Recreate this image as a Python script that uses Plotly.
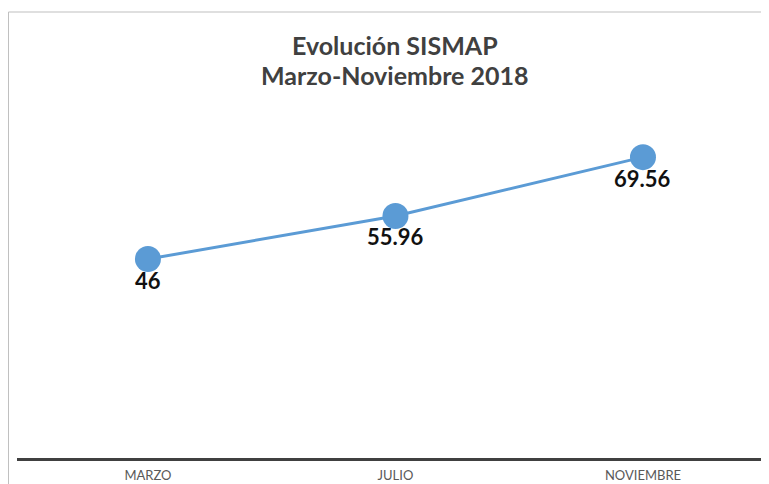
import plotly.graph_objects as go

categories = ["MARZO", "JULIO", "NOVIEMBRE"]
values = [46, 55.96, 69.56]
labels = ["46", "55.96", "69.56"]
title_lines = ["Evolución SISMAP", "Marzo-Noviembre 2018"]

FONT = "Lato, Open Sans, sans-serif"

fig = go.Figure()
fig.add_trace(go.Scatter(
    x=categories, y=values, mode="lines+markers",
    line=dict(color="#5B9BD5", width=3),
    marker=dict(size=26, color="#5B9BD5"),
    cliponaxis=False, showlegend=False, hoverinfo="x+y",
))

annotations = [
    dict(x=c, y=v, xref="x", yref="y", text=t, showarrow=False,
         yanchor="middle", xanchor="center", yshift=-21,
         font=dict(family=FONT, size=22, color="#111111", weight="bold"))
    for c, v, t in zip(categories, values, labels)
]
for line, ypos in zip(title_lines, [1.1936, 1.107]):
    annotations.append(dict(
        x=0.506, y=ypos, xref="paper", yref="paper", text=line, showarrow=False,
        xanchor="center", yanchor="middle",
        font=dict(family=FONT, size=25, color="#404040", weight="bold"),
    ))

fig.update_layout(
    width=769, height=484,
    margin=dict(l=9, r=12, t=104, b=34),
    paper_bgcolor="white", plot_bgcolor="white",
    xaxis=dict(
        showgrid=False, showline=True, linecolor="#404040", linewidth=2.5,
        ticks="", ticklabelstandoff=4,
        tickfont=dict(family=FONT, size=13, color="#595959"),
        range=[-0.529, 2.493], fixedrange=True,
    ),
    yaxis=dict(
        range=[0, 80], showgrid=False, showline=False, showticklabels=False,
        zeroline=False, ticks="",
    ),
    annotations=annotations,
    shapes=[
        dict(type="line", xref="paper", yref="paper", x0=-0.0114, x1=-0.0114, y0=-0.2, y1=1.2890,
             line=dict(color="#BFBFBF", width=1)),
        dict(type="line", xref="paper", yref="paper", x0=-0.0114, x1=1.05, y0=1.2890, y1=1.2890,
             line=dict(color="#BFBFBF", width=1)),
    ],
)

fig.write_html("out.html")
